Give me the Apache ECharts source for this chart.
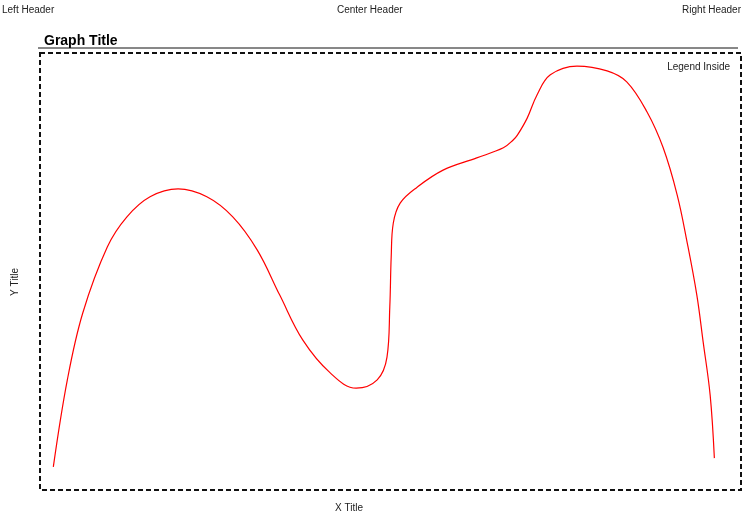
<!DOCTYPE html>
<html>
<head>
<meta charset="utf-8">
<script src="https://cdn.jsdelivr.net/npm/echarts@6/dist/echarts.min.js"></script>
<style>html,body{margin:0;padding:0;background:#fff}#c{width:744px;height:524px}</style>
</head>
<body>
<div id="c"></div>
<script>
var xValues = [1.9, 3.9, 6.1, 9.6, 12.4, 15.7, 19.7, 23.8, 27.5, 31.0, 34.2, 37.5, 41.4, 45.1, 48.1, 49.5, 49.9, 50.1, 50.4, 51.4, 53.8, 57.5, 62.3, 66.1, 67.5, 68.1, 69.5, 70.9, 72.8, 76.6, 80.9, 83.7, 86.6, 88.9, 90.9, 92.3, 93.7, 94.6, 95.6, 96.2];
var yValues = [5.3, 25.2, 40.5, 55.6, 62.5, 67.1, 68.9, 67.1, 62.5, 54.9, 44.6, 34.3, 26.8, 23.3, 25.2, 30.4, 41.9, 53.3, 61.1, 65.7, 69.3, 73.2, 76.0, 78.3, 80.1, 81.2, 85.1, 90.4, 95.0, 97.0, 95.9, 93.4, 86.5, 78.3, 67.5, 56.8, 44.6, 33.9, 21.7, 7.3];
var seriesName = 'Legend Inside';
var headers = ['Left Header', 'Center Header', 'Right Header'];
var titleText = 'Graph Title';
var xTitle = 'X Title';
var yTitle = 'Y Title';

var pts = xValues.map(function (x, i) { return [x, yValues[i]]; });
var chart = echarts.init(document.getElementById('c'), null, {renderer: 'canvas'});
var font = 'Liberation Sans, Arial, Helvetica, sans-serif';
chart.setOption({
  animation: false,
  grid: {left: 40, top: 53, right: 3, bottom: 34, show: true, borderColor: '#111', borderWidth: 2, borderType: [5, 3], backgroundColor: 'transparent'},
  xAxis: {type: 'value', min: 0, max: 100, show: false},
  yAxis: {type: 'value', min: 0, max: 100, show: false},
  legend: {right: 14, top: 60, icon: 'none', itemWidth: 0, itemGap: 0, padding: 0,
    textStyle: {fontFamily: font, fontSize: 10, color: '#222'}, data: [seriesName]},
  series: [{name: seriesName, type: 'line', data: pts, smooth: 0.38, symbol: 'none',
    lineStyle: {color: '#ff0000', width: 1.2}, itemStyle: {color: '#ff0000'}}],
  graphic: [
    {type: 'text', left: 2, top: 5, style: {text: headers[0], font: '10px ' + font, fill: '#222'}},
    {type: 'text', left: 337, top: 5, style: {text: headers[1], font: '10px ' + font, fill: '#222'}},
    {type: 'text', right: 3, top: 5, style: {text: headers[2], font: '10px ' + font, fill: '#222'}},
    {type: 'text', left: 44, top: 34, style: {text: titleText, font: 'bold 14px ' + font, fill: '#000'}},
    {type: 'line', shape: {x1: 38, y1: 48, x2: 738, y2: 48}, style: {stroke: '#111', lineWidth: 1}},
    {type: 'text', left: 335, top: 503, style: {text: xTitle, font: '10px ' + font, fill: '#222'}},
    {type: 'text', left: 10, top: 268, rotation: Math.PI / 2, style: {text: yTitle, font: '10px ' + font, fill: '#222'}}
  ]
});
</script>
</body>
</html>
